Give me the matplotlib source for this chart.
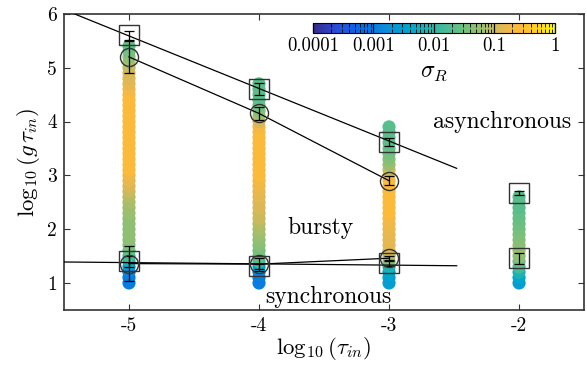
import numpy as np
import matplotlib
matplotlib.use("Agg")
import matplotlib.pyplot as plt
from matplotlib.colors import LinearSegmentedColormap, LogNorm

plt.rcParams["font.family"] = "serif"
plt.rcParams["font.serif"] = ["cmr10"]
plt.rcParams["mathtext.fontset"] = "cm"
plt.rcParams["axes.unicode_minus"] = False
plt.rcParams["axes.formatter.use_mathtext"] = True

# log10(tau_in) columns and the log10(g tau_in) grid they were run on
tau_cols = [-5, -4, -3, -2]
g_grid = [1.0, 1.1, 1.2, 1.3, 1.4, 1.5, 1.6, 1.7, 1.8, 1.9,
          2.0, 2.1, 2.2, 2.3, 2.4, 2.5, 2.6, 2.7, 2.8, 2.9,
          3.0, 3.1, 3.2, 3.3, 3.4, 3.5, 3.6, 3.7, 3.8, 3.9,
          4.0, 4.1, 4.2, 4.3, 4.4, 4.5, 4.6, 4.7, 4.8, 4.9,
          5.0, 5.1, 5.2, 5.3, 5.4]

# sigma_R for each point of each column (bottom to top)
sig_m5 = [0.001, 0.001, 0.0012, 0.002, 0.006, 0.015, 0.025, 0.04, 0.05, 0.05,
          0.05, 0.05, 0.05, 0.06, 0.06, 0.07, 0.08, 0.1, 0.12, 0.15,
          0.18, 0.25, 0.25, 0.25, 0.25, 0.25, 0.25, 0.25, 0.25, 0.25,
          0.25, 0.25, 0.25, 0.25, 0.25, 0.25, 0.2, 0.15, 0.13, 0.12,
          0.1, 0.07, 0.05, 0.035, 0.025]
sig_m4 = [0.001, 0.001, 0.0012, 0.004, 0.015, 0.025, 0.035, 0.045, 0.05, 0.06,
          0.07, 0.08, 0.1, 0.1, 0.12, 0.12, 0.14, 0.15, 0.18, 0.2,
          0.25, 0.25, 0.25, 0.25, 0.25, 0.25, 0.25, 0.25, 0.25, 0.2,
          0.12, 0.07, 0.045, 0.03, 0.025, 0.022, 0.022, 0.022]
sig_m3 = [0.003, 0.003, 0.004, 0.007, 0.04, 0.08, 0.12, 0.14, 0.15, 0.15,
          0.16, 0.18, 0.2, 0.25, 0.25, 0.25, 0.25, 0.25, 0.25, 0.25,
          0.2, 0.1, 0.06, 0.045, 0.035, 0.028, 0.022, 0.022, 0.022, 0.022]
sig_m2 = [0.003, 0.004, 0.007, 0.015, 0.03, 0.05, 0.06, 0.05, 0.045, 0.04,
          0.035, 0.03, 0.028, 0.025, 0.022, 0.022, 0.022]
sigmas = [sig_m5, sig_m4, sig_m3, sig_m2]

# boundary estimates: squares (upper / lower), circles (upper / lower)
sq_up_x = [-5, -4, -3, -2]
sq_up_y = [5.6, 4.6, 3.62, 2.67]
sq_up_e = [0.08, 0.11, 0.07, 0.04]
sq_lo_x = [-5, -4, -3, -2]
sq_lo_y = [1.4, 1.31, 1.37, 1.46]
sq_lo_e = [0.1, 0.05, 0.05, 0.1]
ci_up_x = [-5, -4, -3]
ci_up_y = [5.2, 4.15, 2.9]
ci_up_e = [0.3, 0.12, 0.08]
ci_lo_x = [-5, -4, -3]
ci_lo_y = [1.36, 1.35, 1.46]
ci_lo_e = [0.32, 0.12, 0.05]

# straight fit lines
fit_up_x = [-5.42, -2.48]
fit_up_y = [6.0, 3.13]
fit_lo_x = [-5.5, -2.48]
fit_lo_y = [1.39, 1.32]

parula = LinearSegmentedColormap.from_list("parula", [
    (0.0, (0.21, 0.17, 0.55)), (0.1, (0.17, 0.30, 0.85)),
    (0.2, (0.02, 0.42, 0.90)), (0.3, (0.05, 0.55, 0.85)),
    (0.4, (0.00, 0.65, 0.80)), (0.5, (0.18, 0.72, 0.65)),
    (0.6, (0.38, 0.75, 0.53)), (0.7, (0.62, 0.75, 0.43)),
    (0.78, (0.88, 0.72, 0.33)), (0.86, (1.0, 0.73, 0.22)),
    (0.94, (1.0, 0.85, 0.12)), (1.0, (0.98, 0.98, 0.05))])
norm = LogNorm(vmin=1e-4, vmax=1)

fig = plt.figure(figsize=(5.87, 3.65), dpi=100)
ax = fig.add_axes([0.109, 0.151, 0.886, 0.811])

for x, s in zip(tau_cols, sigmas):
    ys = g_grid[:len(s)]
    sc = ax.scatter([x] * len(s), ys, c=s, cmap=parula, norm=norm,
                    s=90, linewidths=0, zorder=2)

ax.plot(fit_up_x, fit_up_y, color="k", lw=0.9, zorder=3)
ax.plot(fit_lo_x, fit_lo_y, color="k", lw=0.9, zorder=3)
ax.plot(ci_up_x, ci_up_y, color="k", lw=0.9, zorder=3)
ax.plot(ci_lo_x, ci_lo_y, color="k", lw=0.9, zorder=3)

mk = dict(fmt="none", ecolor="k", elinewidth=0.9, capsize=3.5, capthick=0.9, zorder=4)
ax.errorbar(sq_up_x, sq_up_y, yerr=sq_up_e, **mk)
ax.errorbar(sq_lo_x, sq_lo_y, yerr=sq_lo_e, **mk)
ax.errorbar(ci_up_x, ci_up_y, yerr=ci_up_e, **mk)
ax.errorbar(ci_lo_x, ci_lo_y, yerr=ci_lo_e, **mk)
ax.plot(sq_up_x, sq_up_y, "s", mfc="none", mec="#333333", ms=14, mew=1.0, zorder=5)
ax.plot(sq_lo_x, sq_lo_y, "s", mfc="none", mec="#333333", ms=14, mew=1.0, zorder=5)
ax.plot(ci_up_x, ci_up_y, "o", mfc="none", mec="#333333", ms=13, mew=1.0, zorder=5)
ax.plot(ci_lo_x, ci_lo_y, "o", mfc="none", mec="#333333", ms=13, mew=1.0, zorder=5)

ax.text(-2.13, 4.0, "asynchronous", fontsize=17, ha="center", va="center")
ax.text(-3.53, 2.02, "bursty", fontsize=17, ha="center", va="center")
ax.text(-3.47, 0.74, "synchronous", fontsize=17, ha="center", va="center")

ax.set_xlim(-5.5, -1.5)
ax.set_ylim(0.5, 6)
ax.set_xticks([-5, -4, -3, -2])
ax.set_xticklabels(["-5", "-4", "-3", "-2"])
ax.set_yticks([1, 2, 3, 4, 5, 6])
ax.set_yticklabels(["1", "2", "3", "4", "5", "6"])
ax.tick_params(direction="in", top=True, right=True, length=4, labelsize=14,
               color="#333333", pad=5)
ax.set_xlabel(r"$\log_{10}(\tau_{in})$", fontsize=16.5, labelpad=0)
ax.set_ylabel(r"$\log_{10}(g\,\tau_{in})$", fontsize=16.5, labelpad=4)
for sp in ax.spines.values():
    sp.set_color("#333333")
    sp.set_linewidth(1.2)

cax = fig.add_axes([0.533, 0.9096, 0.412, 0.0274])
cb = fig.colorbar(sc, cax=cax, orientation="horizontal")
cb.set_ticks([1e-4, 1e-3, 1e-2, 1e-1, 1])
cb.set_ticklabels(["0.0001", "0.001", "0.01", "0.1", "1"])
cax.tick_params(which="both", direction="in", top=True, bottom=True, labelsize=13.5,
                color="k", pad=3)
cax.tick_params(which="major", length=7, width=0.8)
cax.tick_params(which="minor", length=3, width=0.6)
cb.outline.set_linewidth(0.8)
cax.set_xlabel(r"$\sigma_R$", fontsize=17, labelpad=4)

fig.savefig("out.png", dpi=100)
